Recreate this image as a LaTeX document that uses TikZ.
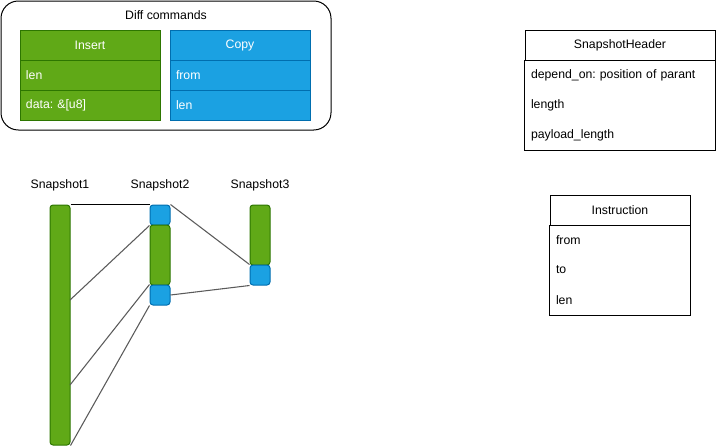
\documentclass[tikz,border=0pt]{standalone}
\usepackage{fontspec}
\setmainfont{Liberation Sans}
\usetikzlibrary{positioning}
\definecolor{insfill}{HTML}{60A917}
\definecolor{insline}{HTML}{2D7600}
\definecolor{cpyfill}{HTML}{1BA1E2}
\definecolor{cpyline}{HTML}{006EAF}
\definecolor{linkgray}{HTML}{5A5A5A}
\frenchspacing

\begin{document}
\begin{tikzpicture}[x=0.75pt, y=-0.75pt, font=\fontsize{9.2}{11}\selectfont, line width=0.75pt,
    cmdhead/.style={draw, minimum width=105pt, minimum height=22.5pt, inner sep=0pt, text=white},
    cmdrow/.style={draw, minimum height=22.5pt, text width=96pt, inner xsep=4.5pt, inner ysep=0pt, align=left, text=white},
    ins/.style={fill=insfill, draw=insline},
    cpy/.style={fill=cpyfill, draw=cpyline},
    tabhead/.style={draw, minimum height=22.5pt, inner sep=0pt},
    tabrow/.style={minimum height=22.5pt, inner xsep=4.5pt, inner ysep=0pt, align=left},
    bar/.style={draw, rounded corners=2.25pt, minimum width=15pt, inner sep=0pt},
    link/.style={draw=linkgray, line width=0.8pt}]
    \useasboundingbox (0,0) rectangle (716,447);
    % Diff commands
    \node[draw, rounded corners=13pt, minimum width=247.5pt, minimum height=96.75pt] (diff) at (166,65.5) {};
    \node (difft) at (166,15) {Diff commands};
    \node[cmdhead, ins] (ins) at (90,45) {Insert};
    \node[cmdrow, ins] (ins1) at (90,75) {len};
    \node[cmdrow, ins] (ins2) at (90,105) {data: \&[u8]};
    \node[cmdhead, cpy] (cpy) at (240,45) {Copy};
    \node[cmdrow, cpy] (cpy1) at (240,75) {from};
    \node[cmdrow, cpy] (cpy2) at (240,105) {len};
    % SnapshotHeader
    \node[tabhead, minimum width=142.5pt] (hdr) at (620,45) {SnapshotHeader};
    \node[tabrow, text width=133.5pt] (hdr1) at (620,75) {depend\_on: position of parant};
    \node[tabrow, text width=133.5pt] (hdr2) at (620,105) {length};
    \node[tabrow, text width=133.5pt] (hdr3) at (620,135) {payload\_length};
    \draw (hdr.south west) rectangle (hdr3.south east);
    % Instruction
    \node[tabhead, minimum width=105pt] (instr) at (620,210) {Instruction};
    \node[tabrow, text width=96pt] (instr1) at (620,240) {from};
    \node[tabrow, text width=96pt] (instr2) at (620,270) {to};
    \node[tabrow, text width=96pt] (instr3) at (620,300) {len};
    \draw (instr.south west) rectangle (instr3.south east);
    % snapshots
    \node (s1t) at (60,185) {Snapshot1};
    \node (s2t) at (160,185) {Snapshot2};
    \node (s3t) at (260,185) {Snapshot3};
    \node[bar, ins, minimum height=180pt] (s1) at (60,325) {};
    \node[bar, cpy, minimum height=15pt] (s2a) at (160,215) {};
    \node[bar, ins, minimum height=45pt] (s2b) at (160,255) {};
    \node[bar, cpy, minimum height=15pt] (s2c) at (160,295) {};
    \node[bar, ins, minimum height=45pt] (s3a) at (260,235) {};
    \node[bar, cpy, minimum height=15pt] (s3b) at (260,275) {};
    \coordinate (s1p) at (70,300);
    \coordinate (s1q) at (70,385);
    \draw (s1.north east) -- (s2a.north west);
    \draw[link] (s2a.south west) -- (s1p);
    \draw[link] (s2c.north west) -- (s1q);
    \draw[link] (s2c.south west) -- (s1.south east);
    \draw[link] (s2a.north east) -- (s3b.north west);
    \draw[link] (s2c.east) -- (s3b.south west);
\end{tikzpicture}
\end{document}
